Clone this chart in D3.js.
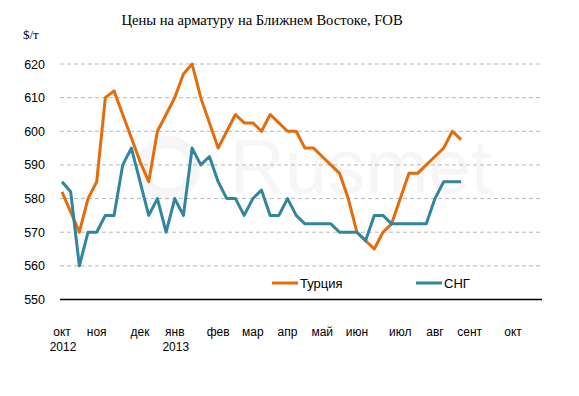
<!DOCTYPE html>
<html><head><meta charset="utf-8">
<script src="https://cdn.jsdelivr.net/npm/d3@7/dist/d3.min.js"></script>
<style>body{margin:0;background:#fff}svg{display:block}</style>
</head><body>
<svg id="c" width="579" height="396"></svg>
<script>
const turkey = [582,576,570,580,585,610,612,605,598,591,585,600,605,610,617,620,610,602.5,595,600,605,602.5,602.5,600,605,602.5,600,600,595,595,592.5,590,587.5,580,570,567.5,565,570,572.5,580,587.5,587.5,590,592.5,595,600,597.5];
const cis = [585,582,560,570,570,575,575,590,595,585,575,580,570,580,575,595,590,592.5,585,580,580,575,580,582.5,575,575,580,575,572.5,572.5,572.5,572.5,570,570,570,567.5,575,575,572.5,572.5,572.5,572.5,572.5,580,585,585,585];
const monthLabels = ["окт","ноя","дек","янв","фев","мар","апр","май","июн","июл","авг","сент","окт"];
const monthIdx = [0,4,9,13,18,22,26,30,34,39,43,47,52];
const yearLabels = ["2012","2013"];
const yearIdx = [0,13];
const yTicks = [550,560,570,580,590,600,610,620];
const seriesNames = ["Турция","СНГ"];
const colors = ["#E46C0A","#31859C"];

const svg = d3.select("#c");
const plotL = 60, plotR = 542;
const x = d3.scaleLinear().domain([0,46]).range([62,461]);
const y = d3.scaleLinear().domain([550,620]).range([299.5,64]);

// watermark
const wm = svg.append("g");
wm.append("circle").attr("cx",168).attr("cy",168).attr("r",26).attr("fill","none").attr("stroke","#f6f6f6").attr("stroke-width",12);
wm.append("text").attr("x",230).attr("y",193).attr("font-family","Liberation Sans, Arial, sans-serif").attr("font-size",76).attr("fill","#f6f6f6").text("Rusmet");

// grid
svg.append("g").selectAll("line").data(yTicks.filter(d=>d>550)).join("line")
  .attr("x1",plotL).attr("x2",plotR).attr("y1",d=>y(d)).attr("y2",d=>y(d))
  .attr("stroke","#b8b8b8").attr("stroke-width",1).attr("stroke-dasharray","4,3");
// axis line
svg.append("line").attr("x1",plotL).attr("x2",plotR).attr("y1",y(550)).attr("y2",y(550)).attr("stroke","#000").attr("stroke-width",1.5);

// y labels
const yAxis = d3.axisLeft(y).tickValues(yTicks).tickSize(0).tickPadding(0);
const ya = svg.append("g").attr("transform","translate(45,0)").call(yAxis);
ya.select(".domain").remove();
ya.selectAll("text").attr("font-family","Liberation Sans, Arial, sans-serif").attr("font-size",12.5).attr("fill","#000");

// x labels
svg.append("g").selectAll("text").data(monthLabels).join("text")
  .attr("x",(d,i)=>x(monthIdx[i])).attr("y",336).attr("text-anchor","middle")
  .attr("font-family","Liberation Sans, Arial, sans-serif").attr("font-size",12).text(d=>d);
svg.append("g").selectAll("text").data(yearLabels).join("text")
  .attr("x",(d,i)=>x(yearIdx[i])+1).attr("y",351).attr("text-anchor","middle")
  .attr("font-family","Liberation Sans, Arial, sans-serif").attr("font-size",12).text(d=>d);

// lines
const line = d3.line().x((d,i)=>x(i)).y(d=>y(d));
[turkey,cis].forEach((s,k)=>{
  svg.append("path").datum(s).attr("d",line).attr("fill","none")
    .attr("stroke",colors[k]).attr("stroke-width",3).attr("stroke-linejoin","round");
});

// legend
const legX = [272,416];
seriesNames.forEach((n,k)=>{
  svg.append("line").attr("x1",legX[k]).attr("x2",legX[k]+26).attr("y1",283).attr("y2",283).attr("stroke",colors[k]).attr("stroke-width",3);
  svg.append("text").attr("x",legX[k]+28).attr("y",287.5).attr("font-family","Liberation Sans, Arial, sans-serif").attr("font-size",13).text(n);
});

// title
svg.append("text").attr("x",262).attr("y",25).attr("text-anchor","middle")
  .attr("font-family","Liberation Serif, serif").attr("font-size",14.6).text("Цены на арматуру на Ближнем Востоке, FOB");
svg.append("text").attr("x",23).attr("y",39).attr("font-family","Liberation Serif, serif").attr("font-size",13).text("$/т");
</script>
</body></html>
